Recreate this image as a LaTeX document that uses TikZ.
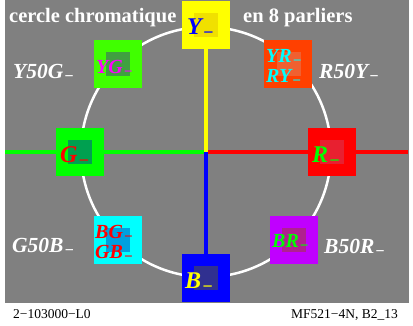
\documentclass[tikz,border=0pt]{standalone}
\usepackage{graphicx}
\usepackage{fontspec}
\setmainfont{Liberation Serif}

\definecolor{bg}{RGB}{128,128,128}
\definecolor{Yout}{RGB}{255,255,0}
\definecolor{Yin}{RGB}{240,224,0}
\definecolor{YRout}{RGB}{255,64,0}
\definecolor{YRin}{RGB}{240,96,48}
\definecolor{Rout}{RGB}{255,0,0}
\definecolor{Rin}{RGB}{232,32,48}
\definecolor{BRout}{RGB}{192,0,255}
\definecolor{BRin}{RGB}{176,32,144}
\definecolor{Bout}{RGB}{0,0,255}
\definecolor{Bin}{RGB}{48,48,144}
\definecolor{BGout}{RGB}{0,255,255}
\definecolor{BGin}{RGB}{0,160,224}
\definecolor{Gout}{RGB}{0,255,0}
\definecolor{Gin}{RGB}{0,160,80}
\definecolor{YGout}{RGB}{64,255,0}
\definecolor{YGin}{RGB}{64,160,64}
\definecolor{pureY}{RGB}{255,255,0}
\definecolor{pureG}{RGB}{0,255,0}
\definecolor{pureR}{RGB}{255,0,0}
\definecolor{pureB}{RGB}{0,0,255}
\definecolor{pureC}{RGB}{0,255,255}
\definecolor{pureM}{RGB}{255,0,255}

\newcommand{\mn}{\kern0.04em\raisebox{-0.18em}{\scalebox{0.75}{−}}}

\begin{document}
\begin{tikzpicture}[x=1pt, y=-1pt]

    \tikzstyle{patch} = [minimum size=48pt, inner sep=0, outer sep=0]
    \tikzstyle{core} = [minimum size=24pt, inner sep=0, outer sep=0]
    \tikzstyle{one} = [anchor=base west, inner sep=0, font=\fontsize{24}{24}\selectfont\bfseries\itshape]
    \tikzstyle{two} = [anchor=base west, inner sep=0, font=\fontsize{20}{20}\selectfont\bfseries\itshape]
    \tikzstyle{side} = [white, anchor=base west, inner sep=0, font=\fontsize{21.5}{21.5}\selectfont\bfseries\itshape]
    \tikzstyle{head} = [white, anchor=base west, inner sep=0, font=\fontsize{20.5}{20.5}\selectfont\bfseries]
    \tikzstyle{foot} = [black, inner sep=0, font=\fontsize{13.5}{13.5}\selectfont]
    \tikzstyle{axis} = [line width=3.5]

    \useasboundingbox (0,0) rectangle (413,325);
    \fill[white] (0,0) rectangle (413,325);
    \fill[bg] (5,0) rectangle (409,303);

    \coordinate (c) at (206,152);
    \coordinate (w) at (5,152);
    \coordinate (e) at (408,152);
    \coordinate (pY) at (206,24.5);
    \coordinate (pB) at (206,278);

    \draw[white, line width=2.5] (c) circle (125pt);

    \draw[axis, pureG] (w) -- (c);
    \draw[axis, pureR] (c) -- (e);
    \draw[axis, pureY] (c) -- (pY);
    \draw[axis, pureB] (c) -- (pB);

    \node[patch, fill=Yout] (Y) at (pY) {};
    \node[core, fill=Yin] (Yc) at (pY) {};
    \node[one, pureB] (Yt) at (187,34.5) {Y\mn};

    \node[patch, fill=YRout] (YR) at (288,64) {};
    \node[core, fill=YRin] (YRc) at (289,64) {};
    \node[two, pureC] (YRt) at (266,62) {YR\mn};
    \node[two, pureC] (RYt) at (266,82) {RY\mn};

    \node[patch, fill=Rout] (R) at (332,152) {};
    \node[core, fill=Rin] (Rc) at (332,152) {};
    \node[one, pureG] (Rt) at (312,162) {R\mn};

    \node[patch, fill=BRout] (BR) at (294,240) {};
    \node[core, fill=BRin] (BRc) at (294,240) {};
    \node[two, pureG] (BRt) at (272,247) {BR\mn};

    \node[patch, fill=Bout] (B) at (pB) {};
    \node[core, fill=Bin] (Bc) at (pB) {};
    \node[one, pureY] (Bt) at (185,288) {B\mn};

    \node[patch, fill=BGout] (BG) at (118,240) {};
    \node[core, fill=BGin] (BGc) at (118,240) {};
    \node[two, pureR] (BGt) at (95,238) {BG\mn};
    \node[two, pureR] (GBt) at (95,258) {GB\mn};

    \node[patch, fill=Gout] (G) at (80,152) {};
    \node[core, fill=Gin] (Gc) at (80,152) {};
    \node[one, pureR] (Gt) at (60,162) {G\mn};

    \node[patch, fill=YGout] (YG) at (118,64) {};
    \node[core, fill=YGin] (YGc) at (118,64) {};
    \node[two, pureM] (YGt) at (96,73) {YG\mn};

    \node[head] (t1) at (9,22) {cercle chromatique};
    \node[head] (t2) at (243,22) {en 8 parliers};

    \node[side] (lYG) at (13,78) {Y50G\mn};
    \node[side] (lYR) at (319,78) {R50Y\mn};
    \node[side] (lBG) at (12,252) {G50B\mn};
    \node[side] (lBR) at (324,253) {B50R\mn};

    \node[foot, anchor=base west] (fl) at (13,318) {2−103000−L0};
    \node[foot, anchor=base east] (fr) at (398,318) {MF521−4N, B2\_13};
\end{tikzpicture}
\end{document}
